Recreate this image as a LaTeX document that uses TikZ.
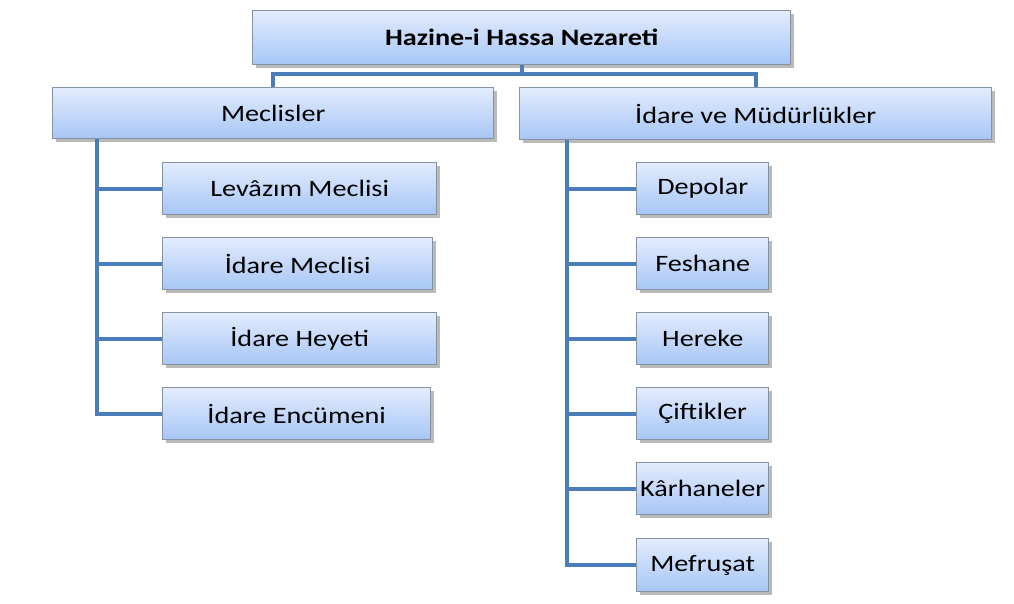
\documentclass[tikz,border=0pt]{standalone}
\usepackage{fontspec}
\usetikzlibrary{shadows}
\newfontfamily\boxfont[FakeStretch=1.2]{Carlito}
\definecolor{linkblue}{HTML}{4A7EBB}
\definecolor{boxtop}{HTML}{E2ECFD}
\definecolor{boxbottom}{HTML}{A7C6F6}
\definecolor{boxedge}{HTML}{85929F}
\tikzset{
  orgbox/.style={draw=boxedge, line width=1.4pt, top color=boxtop, bottom color=boxbottom,
    inner sep=0pt, anchor=north west, align=center,
    font=\boxfont\fontsize{23.5}{28}\selectfont,
    drop shadow={shadow xshift=3pt, shadow yshift=-3pt, opacity=0.45, fill=black!60}},
  link/.style={draw=linkblue, line width=4pt}
}
\begin{document}
\begin{tikzpicture}[x=1pt, y=-1pt]
  \useasboundingbox[fill=white] (0,0) rectangle (1014,604);

  % head office
  \node[orgbox, minimum width=538pt, minimum height=54pt, font=\boxfont\bfseries\fontsize{23.5}{28}\selectfont]
    (head) at (252,10) {Hazine-i Hassa Nezareti};

  % two branches
  \node[orgbox, minimum width=441pt, minimum height=51pt] (mec) at (52,87) {Meclisler};
  \node[orgbox, minimum width=472pt, minimum height=52pt] (ida) at (519,87) {İdare ve Müdürlükler};

  % councils
  \node[orgbox, minimum width=274pt, minimum height=52pt] (m1) at (162,162) {Levâzım Meclisi};
  \node[orgbox, minimum width=270pt, minimum height=52pt] (m2) at (162,237) {İdare Meclisi};
  \node[orgbox, minimum width=274pt, minimum height=52pt] (m3) at (162,312) {İdare Heyeti};
  \node[orgbox, minimum width=268pt, minimum height=52pt] (m4) at (162,387) {İdare Encümeni};

  % directorates
  \node[orgbox, minimum width=132pt, minimum height=52pt] (d1) at (636,162) {Depolar};
  \node[orgbox, minimum width=132pt, minimum height=52pt] (d2) at (636,237) {Feshane};
  \node[orgbox, minimum width=132pt, minimum height=52pt] (d3) at (636,312) {Hereke};
  \node[orgbox, minimum width=132pt, minimum height=52pt] (d4) at (636,387) {Çiftikler};
  \node[orgbox, minimum width=132pt, minimum height=52pt] (d5) at (636,462) {Kârhaneler};
  \node[orgbox, minimum width=132pt, minimum height=53pt] (d6) at (636,538) {Mefruşat};

  % connectors from the head office to the two branches
  \coordinate (split) at ([yshift=-9pt]head.south);
  \path[link] (head.south) -- (split);
  \path[link] (split) -| (mec.north);
  \path[link] (split) -| (ida.north);

  % left spine with its councils
  \coordinate (ls) at ([xshift=45pt]mec.south west);
  \foreach \c in {m1,m2,m3,m4} {
    \path[link] (ls) |- (\c.west);
  }
  % right spine with its directorates
  \coordinate (rs) at ([xshift=48pt]ida.south west);
  \foreach \c in {d1,d2,d3,d4,d5,d6} {
    \path[link] (rs) |- (\c.west);
  }
\end{tikzpicture}
\end{document}
